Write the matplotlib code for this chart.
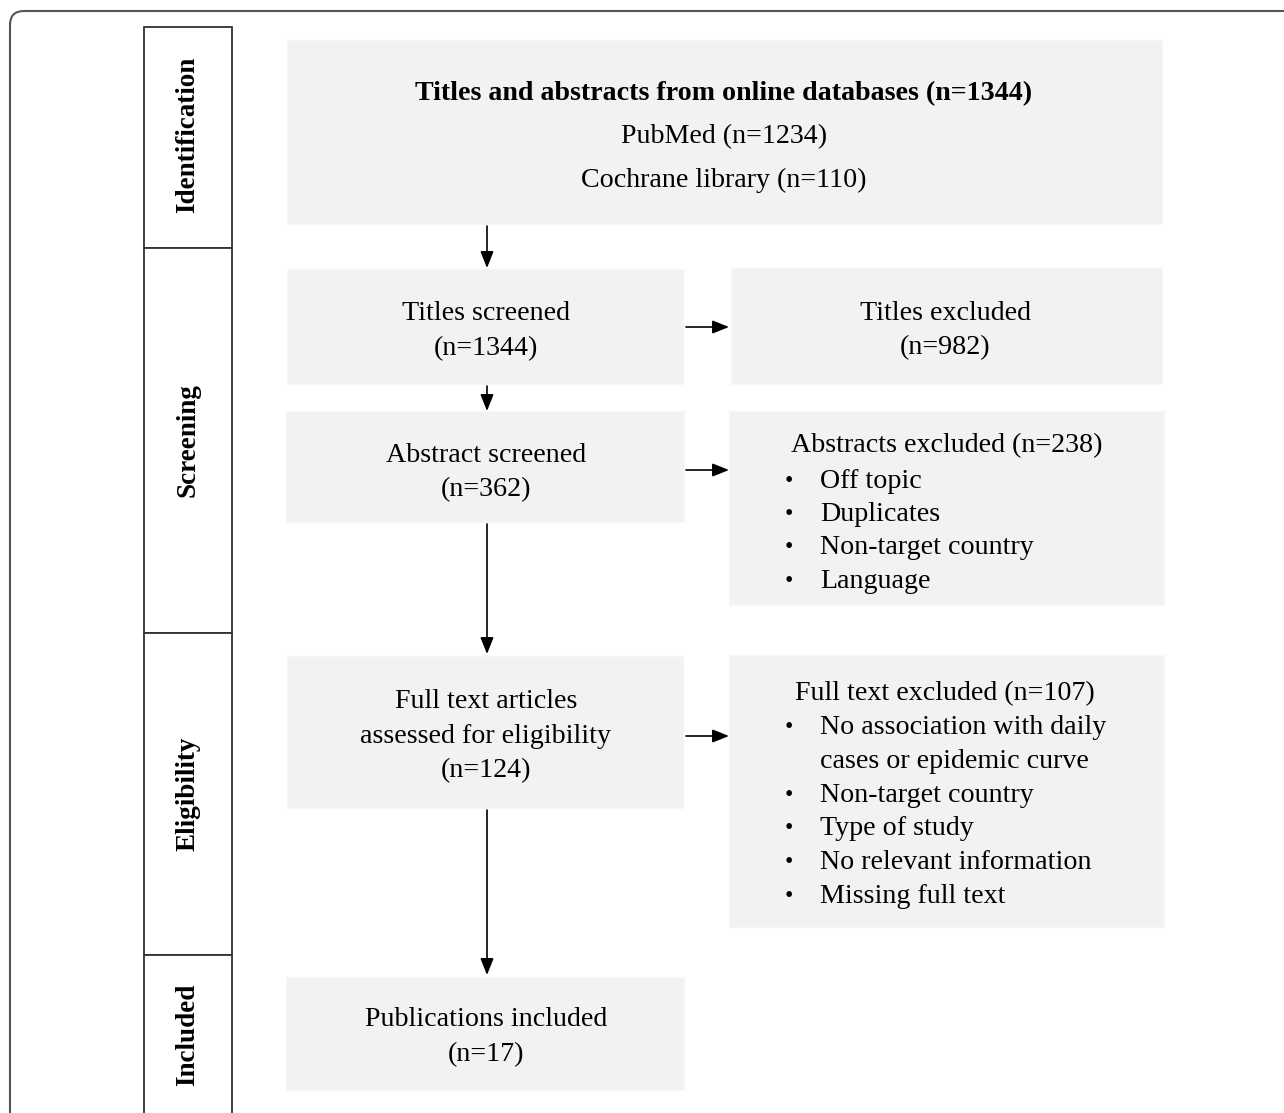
import matplotlib.pyplot as plt
from matplotlib.patches import Rectangle, FancyBboxPatch

plt.rcParams['font.family'] = ['Liberation Serif', 'DejaVu Serif']

# stages of the PRISMA flow
stages = ['Identification', 'Screening', 'Eligibility', 'Included']
stage_bounds = [27, 248, 633, 955, 1125]

# counts
n_total = 1344
n_pubmed = 1234
n_cochrane = 110
n_titles_excl = 982
n_abstracts = 362
n_abs_excl = 238
n_fulltext = 124
n_ft_excl = 107
n_included = 17

abs_reasons = ['Off topic', 'Duplicates', 'Non-target country', 'Language']
ft_reasons = ['No association with daily\ncases or epidemic curve', 'Non-target country',
              'Type of study', 'No relevant information', 'Missing full text']

W, H = 1284, 1113
fig = plt.figure(figsize=(W / 100, H / 100), dpi=100)
ax = fig.add_axes([0, 0, 1, 1])
ax.set_xlim(0, W)
ax.set_ylim(H, 0)
ax.axis('off')

FS = 20.2
FILL = '#f2f2f2'
DY = 2  # small vertical nudge for text

# outer rounded frame (cut off at right and bottom)
ax.add_patch(FancyBboxPatch((10, 11), 1320, 1150, boxstyle='round,pad=0,rounding_size=14',
                            fc='none', ec='#555555', lw=1.5, clip_on=True))

# stage column
stage_mid = [135, 440, 794, 1035]
for i, s in enumerate(stages):
    y0, y1 = stage_bounds[i], stage_bounds[i + 1]
    ax.add_patch(Rectangle((144, y0), 88, y1 - y0, fc='white', ec='#333333', lw=1.3))
    ax.text(188, stage_mid[i], s, rotation=90, ha='center', va='center',
            fontsize=19.5, fontweight='bold')


def box(x0, y0, x1, y1):
    ax.add_patch(Rectangle((x0, y0), x1 - x0, y1 - y0, fc=FILL, ec='#f7f7f7', lw=1))


def lines(x, y0, text, step=35, **kw):
    for k, ln in enumerate(text.split('\n')):
        ax.text(x, y0 + DY + k * step, ln, ha='center', va='center', fontsize=FS, **kw)


def arrow(x0, y0, x1, y1):
    ax.annotate('', xy=(x1, y1), xytext=(x0, y0),
                arrowprops=dict(arrowstyle='-|>,head_length=1.0,head_width=0.4',
                                color='black', lw=1.2, shrinkA=0, shrinkB=0))


# boxes
box(287, 40, 1162, 224)
box(287, 269, 683, 384)
box(731, 268, 1162, 384)
box(286, 411, 684, 522)
box(729, 411, 1164, 605)
box(287, 656, 683, 808)
box(729, 655, 1164, 927)
box(286, 977, 684, 1090)

# texts
lines(724, 92, f'Titles and abstracts from online databases (n={n_total})', fontweight='bold')
lines(724, 135, f'PubMed (n={n_pubmed})\nCochrane library (n={n_cochrane})', step=43)

lines(486, 312, f'Titles screened\n(n={n_total})')
lines(945, 311, f'Titles excluded\n(n={n_titles_excl})')
lines(486, 453, f'Abstract screened\n(n={n_abstracts})')
lines(486, 700, f'Full text articles\nassessed for eligibility\n(n={n_fulltext})', step=34.5)
lines(486, 1018, f'Publications included\n(n={n_included})')

ax.text(791, 444 + DY, f'Abstracts excluded (n={n_abs_excl})', ha='left', va='center',
        fontsize=FS)
for k, r in enumerate(abs_reasons):
    y = 479 + DY + k * 33.5
    ax.text(789, y, '•', ha='center', va='center', fontsize=FS - 3)
    ax.text(820, y, r, ha='left', va='center', fontsize=FS)

ax.text(795, 692 + DY, f'Full text excluded (n={n_ft_excl})', ha='left', va='center',
        fontsize=FS)
y = 726 + DY
for r in ft_reasons:
    ax.text(789, y, '•', ha='center', va='center', fontsize=FS - 3)
    for ln in r.split('\n'):
        ax.text(820, y, ln, ha='left', va='center', fontsize=FS)
        y += 33.6

# arrows
arrow(487, 226, 487, 268)
arrow(487, 386, 487, 411)
arrow(487, 524, 487, 654)
arrow(487, 810, 487, 975)
arrow(686, 327, 729, 327)
arrow(686, 470, 729, 470)
arrow(686, 736, 729, 736)

fig.savefig('out.png', dpi=100)
